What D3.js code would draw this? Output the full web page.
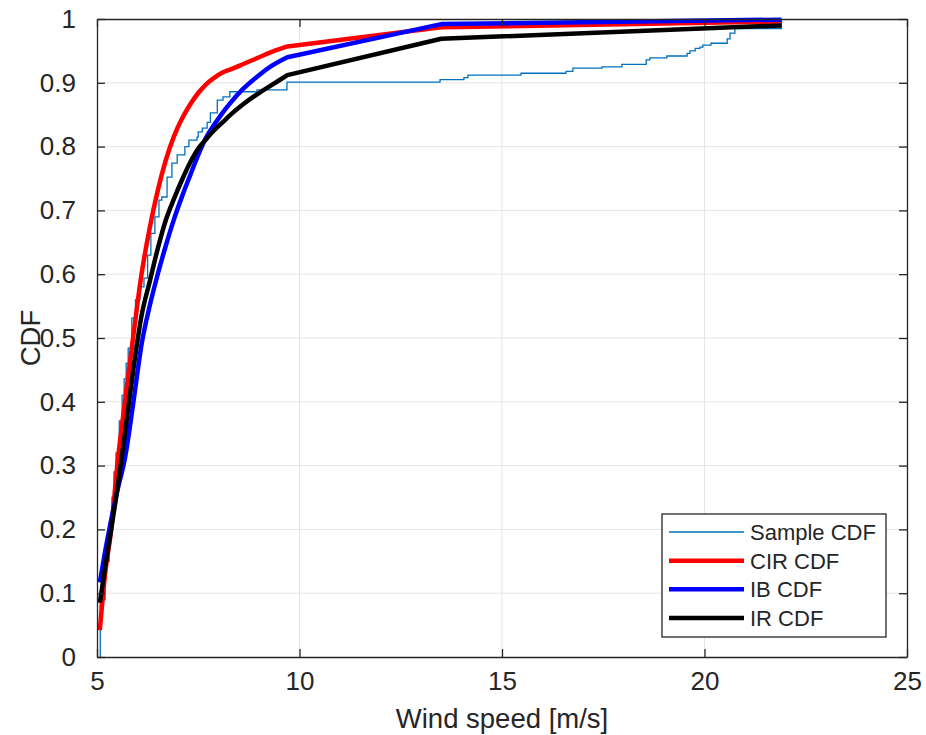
<!DOCTYPE html>
<html>
<head>
<meta charset="utf-8">
<script src="https://cdn.jsdelivr.net/npm/d3@7"></script>
<style>
  body { margin: 0; background: #fff; }
  text { font-family: "Liberation Sans", Arial, sans-serif; fill: #262626; }
  .grid line { stroke: #e5e5e5; stroke-width: 1; }
  .axis path, .axis line { stroke: #262626; }
</style>
</head>
<body>
<div id="vis"></div>
<script>
// ---- data ----
var xTicks = [5, 10, 15, 20, 25];
var yTicks = [0, 0.1, 0.2, 0.3, 0.4, 0.5, 0.6, 0.7, 0.8, 0.9, 1];

// empirical CDF steps (x where the step happens, level after it)
var sampleX = [5.08, 5.2, 5.3, 5.37, 5.42, 5.47, 5.55, 5.62, 5.67, 5.72, 5.77, 5.86, 5.95, 6.06, 6.16, 6.25,
               6.33, 6.43, 6.53, 6.6, 6.73, 6.85, 6.98, 7.17, 7.27, 7.47, 7.5, 7.6, 7.72, 7.8, 7.97, 8.11,
               8.28, 8.95, 9.69, 13.47, 14.06, 14.16, 15.47, 16.58, 16.75, 17.47, 17.96, 18.56, 18.65,
               19.07, 19.57, 19.64, 19.77, 19.89, 19.96, 20.16, 20.56, 20.63, 20.75, 21.9];
var sampleY = [0.09, 0.15, 0.21, 0.25, 0.29, 0.32, 0.37, 0.41, 0.436, 0.46, 0.484, 0.531, 0.56, 0.58, 0.594, 0.63,
               0.664, 0.69, 0.716, 0.721, 0.752, 0.774, 0.787, 0.8, 0.81, 0.815, 0.823, 0.829, 0.838, 0.853, 0.873, 0.878,
               0.886, 0.889, 0.901, 0.905, 0.908, 0.912, 0.915, 0.918, 0.923, 0.925, 0.929, 0.936, 0.939,
               0.942, 0.946, 0.95, 0.954, 0.956, 0.959, 0.962, 0.969, 0.978, 0.985, 1.0];

// fitted CDFs, evaluated on the same wind speeds
var fitX   = [5.07, 5.2, 5.35, 5.5, 5.7, 5.9, 6.1, 6.3, 6.5, 6.7, 6.9, 7.1, 7.3, 7.5, 7.7, 7.9, 8.1, 8.3, 8.6, 9.0, 9.3, 9.7, 13.5, 21.9];
var cirCdf = [0.042, 0.13, 0.2, 0.3, 0.405, 0.505, 0.6, 0.672, 0.731, 0.779, 0.816, 0.844, 0.866, 0.884, 0.898, 0.908, 0.916, 0.921, 0.929, 0.94, 0.948, 0.957, 0.987, 0.996];
var ibCdf  = [0.117, 0.165, 0.215, 0.26, 0.315, 0.4, 0.49, 0.55, 0.6, 0.645, 0.686, 0.722, 0.755, 0.787, 0.815, 0.835, 0.853, 0.869, 0.89, 0.912, 0.926, 0.94, 0.992, 0.999];
var irCdf  = [0.085, 0.14, 0.2, 0.262, 0.355, 0.452, 0.535, 0.588, 0.64, 0.685, 0.718, 0.748, 0.775, 0.797, 0.812, 0.826, 0.838, 0.85, 0.866, 0.884, 0.896, 0.912, 0.969, 0.99];

var seriesNames = ['Sample CDF', 'CIR CDF', 'IB CDF', 'IR CDF'];
var seriesColors = ['#0072bd', '#ff0000', '#0000ff', '#000000'];

// ---- layout ----
var width = 926, height = 735;
var margin = { top: 19, right: 19, bottom: 78, left: 97 };
var drawWidth = width - margin.left - margin.right;
var drawHeight = height - margin.top - margin.bottom;

var svg = d3.select('#vis').append('svg')
    .attr('width', width)
    .attr('height', height);

var g = svg.append('g')
    .attr('transform', 'translate(' + margin.left + ',' + margin.top + ')');

var xScale = d3.scaleLinear().domain([5, 25]).range([0, drawWidth]);
var yScale = d3.scaleLinear().domain([0, 1]).range([drawHeight, 0]);

// grid
var grid = g.append('g').attr('class', 'grid');
grid.selectAll('.gx').data(xTicks.slice(1, -1)).enter().append('line')
    .attr('x1', function(d) { return xScale(d); })
    .attr('x2', function(d) { return xScale(d); })
    .attr('y1', 0).attr('y2', drawHeight);
grid.selectAll('.gy').data(yTicks.slice(1, -1)).enter().append('line')
    .attr('y1', function(d) { return yScale(d); })
    .attr('y2', function(d) { return yScale(d); })
    .attr('x1', 0).attr('x2', drawWidth);

// sample CDF as stairs
var stepLine = d3.line()
    .x(function(d) { return xScale(d[0]); })
    .y(function(d) { return yScale(d[1]); })
    .curve(d3.curveStepAfter);

var samplePts = [[sampleX[0], 0]].concat(sampleX.map(function(x, i) { return [x, sampleY[i]]; }));
g.append('path')
    .datum(samplePts)
    .attr('fill', 'none')
    .attr('stroke', seriesColors[0])
    .attr('stroke-width', 1.3)
    .attr('d', stepLine);

// fitted curves: smooth where the points are dense, straight across the sparse tail
var smoothLine = d3.line()
    .x(function(d) { return xScale(d[0]); })
    .y(function(d) { return yScale(d[1]); })
    .curve(d3.curveMonotoneX);
var denseCount = fitX.length - 2;

[cirCdf, ibCdf, irCdf].forEach(function(ys, k) {
    var pts = fitX.map(function(x, i) { return [x, ys[i]]; });
    var d = smoothLine(pts.slice(0, denseCount)) +
        pts.slice(denseCount).map(function(p) { return 'L' + xScale(p[0]) + ',' + yScale(p[1]); }).join('');
    g.append('path')
        .attr('fill', 'none')
        .attr('stroke', seriesColors[k + 1])
        .attr('stroke-width', 4.5)
        .attr('stroke-linejoin', 'round')
        .attr('d', d);
});

// axes (ticks inside, on all four sides)
var tickLen = 8;
var fs = 26;
g.append('g').attr('class', 'axis')
    .attr('transform', 'translate(0,' + drawHeight + ')')
    .call(d3.axisBottom(xScale).tickValues(xTicks).tickSizeInner(-tickLen).tickSizeOuter(0).tickPadding(15));
g.append('g').attr('class', 'axis')
    .call(d3.axisTop(xScale).tickValues(xTicks).tickSizeInner(-tickLen).tickSizeOuter(0).tickFormat(''));
g.append('g').attr('class', 'axis')
    .call(d3.axisLeft(yScale).tickValues(yTicks).tickSizeInner(-tickLen).tickSizeOuter(0).tickPadding(21)
        .tickFormat(function(d) { return d3.format('')(d); }));
g.append('g').attr('class', 'axis')
    .attr('transform', 'translate(' + drawWidth + ',0)')
    .call(d3.axisRight(yScale).tickValues(yTicks).tickSizeInner(-tickLen).tickSizeOuter(0).tickFormat(''));

g.selectAll('.axis path').attr('stroke-width', 1.3);
g.selectAll('.axis line').attr('stroke-width', 1.3);
g.selectAll('.axis text')
    .style('font-size', fs + 'px')
    .style('font-family', '"Liberation Sans", Arial, sans-serif')
    .attr('fill', '#262626');

// axis labels
svg.append('text')
    .attr('x', margin.left + drawWidth / 2)
    .attr('y', 728)
    .attr('text-anchor', 'middle')
    .style('font-size', '27.5px')
    .text('Wind speed [m/s]');

svg.append('text')
    .attr('transform', 'translate(40,' + (margin.top + drawHeight / 2) + ') rotate(-90)')
    .attr('text-anchor', 'middle')
    .style('font-size', '27.5px')
    .text('CDF');

// legend
var legend = svg.append('g').attr('transform', 'translate(662,514)');
legend.append('rect')
    .attr('width', 224).attr('height', 123)
    .attr('fill', '#fff')
    .attr('stroke', '#262626')
    .attr('stroke-width', 1.3);
var rowY = d3.scalePoint().domain(seriesNames).range([18, 104]);
var item = legend.selectAll('.item').data(seriesNames).enter().append('g')
    .attr('transform', function(d) { return 'translate(0,' + rowY(d) + ')'; });
item.append('line')
    .attr('x1', 7).attr('x2', 82)
    .attr('stroke', function(d, i) { return seriesColors[i]; })
    .attr('stroke-width', function(d, i) { return i === 0 ? 1.3 : 4.5; });
item.append('text')
    .attr('x', 88).attr('y', 8)
    .style('font-size', '22px')
    .text(function(d) { return d; });
</script>
</body>
</html>
